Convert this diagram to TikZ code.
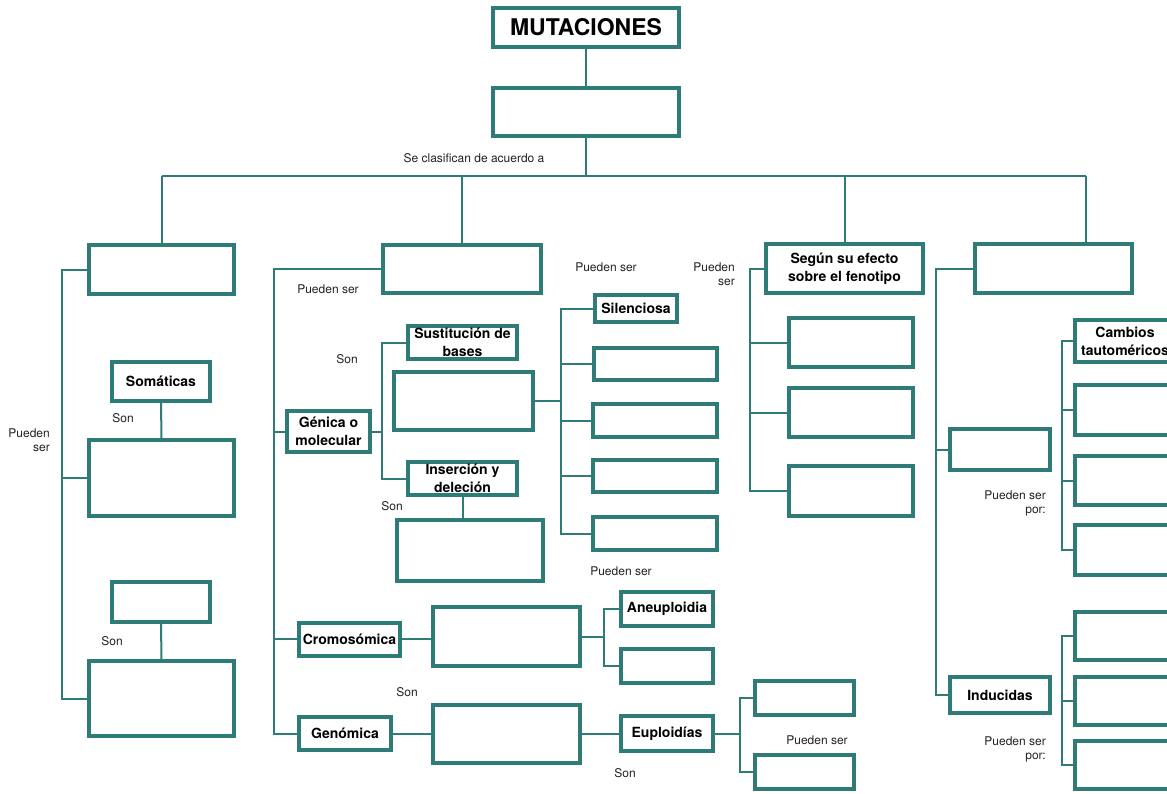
\documentclass[tikz,border=0pt]{standalone}
\usepackage{fontspec}
\setmainfont{TeX Gyre Heros}
\definecolor{tealc}{HTML}{2E7B77}
\definecolor{textc}{HTML}{222222}
\begin{document}
\begin{tikzpicture}[x=1pt,y=-1pt,
  box/.style={draw=tealc, line width=4pt, inner sep=0pt, align=center,
    font=\bfseries\fontsize{14}{18}\selectfont, text=black},
  conn/.style={draw=tealc, line width=2pt},
  lbl/.style={font=\fontsize{12}{14}\selectfont, text=textc, inner sep=0pt, align=center},
  lblr/.style={lbl, align=right, anchor=east}]
\useasboundingbox (0,0) rectangle (1167,793);
\clip (0,0) rectangle (1167,793);
\fill[white] (0,0) rectangle (1167,793);

% ---- top ----
\node[box, minimum width=186, minimum height=39, font=\bfseries\fontsize{23}{26}\selectfont] (title) at (586,27.5) {MUTACIONES};
\node[box, minimum width=186, minimum height=48] (top) at (586,112) {};

% ---- column 1 ----
\node[box, minimum width=145, minimum height=49] (A1) at (161.5,269.5) {};
\node[box, minimum width=98, minimum height=39] (som) at (161,381.5) {Somáticas};
\node[box, minimum width=145, minimum height=76] (A3) at (161.5,478) {};
\node[box, minimum width=98, minimum height=40] (A4) at (161,602) {};
\node[box, minimum width=145, minimum height=75] (A5) at (161.5,698.5) {};

% ---- column 2 ----
\node[box, minimum width=158, minimum height=48] (B1) at (462,269) {};
\node[box, minimum width=83, minimum height=41] (gen) at (328.5,431.5) {Génica o\\molecular};
\node[box, minimum width=109, minimum height=33] (sust) at (462.5,342.5) {Sustitución de\\bases};
\node[box, minimum width=139, minimum height=58] (B2) at (463.5,401) {};
\node[box, minimum width=109, minimum height=33] (ins) at (462.5,478.5) {Inserción y\\deleción};
\node[box, minimum width=146, minimum height=61] (B3) at (470,550.5) {};
\node[box, minimum width=82, minimum height=27] (sil) at (636,308.5) {Silenciosa};
\node[box, minimum width=123, minimum height=32] (S2) at (655.5,364) {};
\node[box, minimum width=124, minimum height=33] (S3) at (655,420.5) {};
\node[box, minimum width=124, minimum height=32] (S4) at (655,476) {};
\node[box, minimum width=124, minimum height=33] (S5) at (655,533.5) {};
\node[box, minimum width=101, minimum height=33] (crom) at (349.5,639) {Cromosómica};
\node[box, minimum width=147, minimum height=59] (C1) at (506.5,636.5) {};
\node[box, minimum width=92, minimum height=34] (aneu) at (667,608.5) {Aneuploidia};
\node[box, minimum width=92, minimum height=34] (An2) at (667,666) {};
\node[box, minimum width=92, minimum height=33] (genom) at (345,733.5) {Genómica};
\node[box, minimum width=147, minimum height=58] (C2) at (506.5,734) {};
\node[box, minimum width=92, minimum height=35] (eup) at (667,733.5) {Euploidías};
\node[box, minimum width=99, minimum height=34] (E1) at (804.5,698) {};
\node[box, minimum width=99, minimum height=34] (E2) at (804.5,772) {};

% ---- column 3 ----
\node[box, minimum width=157, minimum height=49] (seg) at (844.5,268.5) {Según su efecto\\sobre el fenotipo};
\node[box, minimum width=124, minimum height=49] (F1) at (851,342.5) {};
\node[box, minimum width=124, minimum height=49] (F2) at (851,412.5) {};
\node[box, minimum width=124, minimum height=50] (F3) at (851,491) {};

% ---- column 4 ----
\node[box, minimum width=157, minimum height=49] (D1) at (1053.5,268.5) {};
\node[box, minimum width=100, minimum height=41] (D2) at (1000,449.5) {};
\node[box, minimum width=100, minimum height=36] (ind) at (1000,695) {Inducidas};
\node[box, minimum width=100, minimum height=42] (cam) at (1125,341) {Cambios\\tautoméricos};
\node[box, minimum width=123, minimum height=50] (R1) at (1136.5,410) {};
\node[box, minimum width=123, minimum height=49] (R2) at (1136.5,480.5) {};
\node[box, minimum width=123, minimum height=50] (R3) at (1136.5,550) {};
\node[box, minimum width=123, minimum height=48] (R4) at (1136.5,636) {};
\node[box, minimum width=123, minimum height=48] (R5) at (1136.5,701) {};
\node[box, minimum width=123, minimum height=48] (R6) at (1136.5,765) {};

% ---- spine coordinates ----
\coordinate (hub) at (586,176);
\coordinate (d1drop) at (1086,176);
\coordinate (s1) at (62,0);
\coordinate (s2) at (274,0);
\coordinate (s3) at (382,0);
\coordinate (s4) at (561,0);
\coordinate (s5) at (604,0);
\coordinate (s6) at (740,0);
\coordinate (s7) at (750,0);
\coordinate (s8) at (936,0);
\coordinate (s9) at (1062,0);

% top
\draw[conn] (title.south) -- (top.north);
\draw[conn] (top.south) -- (hub);
\draw[conn] (A1.north |- hub) -- (d1drop);
\draw[conn] (A1.north |- hub) -- (A1.north);
\draw[conn] (B1.north |- hub) -- (B1.north);
\draw[conn] (seg.north |- hub) -- (seg.north);
\draw[conn] (d1drop) -- (d1drop |- D1.north);

% column 1
\draw[conn] (A1.west) -- (A1.west -| s1) |- (A5.west);
\draw[conn] (A3.west) -- (A3.west -| s1);
\draw[conn] (som.south) -- (A3.north);
\draw[conn] (A4.south) -- (A5.north);

% column 2
\draw[conn] (B1.west) -- (B1.west -| s2) |- (genom.west);
\draw[conn] (gen.west) -- (gen.west -| s2);
\draw[conn] (crom.west) -- (crom.west -| s2);
\draw[conn] (sust.west) -- (sust.west -| s3) |- (ins.west);
\draw[conn] (gen.east) -- (gen.east -| s3);
\draw[conn] (ins.south) -- (ins.south |- B3.north);
\draw[conn] (sil.west) -- (sil.west -| s4) |- (S5.west);
\draw[conn] (S2.west) -- (S2.west -| s4);
\draw[conn] (S3.west) -- (S3.west -| s4);
\draw[conn] (S4.west) -- (S4.west -| s4);
\draw[conn] (B2.east) -- (B2.east -| s4);
\draw[conn] (crom.east) -- (crom.east -| C1.west);
\draw[conn] (aneu.west) -- (aneu.west -| s5) |- (An2.west);
\draw[conn] (C1.east) -- (C1.east -| s5);
\draw[conn] (genom.east) -- (genom.east -| C2.west);
\draw[conn] (C2.east) -- (C2.east -| eup.west);
\draw[conn] (E1.west) -- (E1.west -| s6) |- (E2.west);
\draw[conn] (eup.east) -- (eup.east -| s6);

% column 3
\draw[conn] (seg.west) -- (seg.west -| s7) |- (F3.west);
\draw[conn] (F1.west) -- (F1.west -| s7);
\draw[conn] (F2.west) -- (F2.west -| s7);

% column 4
\draw[conn] (D1.west) -- (D1.west -| s8) |- (ind.west);
\draw[conn] (D2.west) -- (D2.west -| s8);
\draw[conn] (cam.west) -- (cam.west -| s9) |- (R3.west);
\draw[conn] (R1.west) -- (R1.west -| s9);
\draw[conn] (R2.west) -- (R2.west -| s9);
\draw[conn] (R4.west) -- (R4.west -| s9) |- (R6.west);
\draw[conn] (R5.west) -- (R5.west -| s9);

% ---- labels ----
\node[lbl] (l1) at (474,158) {Se clasifican de acuerdo a};
\node[lblr] (l2) at (50,440) {Pueden\\ser};
\node[lbl] (l3) at (123,418) {Son};
\node[lbl] (l4) at (112,641) {Son};
\node[lbl] (l5) at (328,289) {Pueden ser};
\node[lbl] (l6) at (347,359) {Son};
\node[lbl] (l7) at (392,506) {Son};
\node[lbl] (l8) at (606,267) {Pueden ser};
\node[lbl] (l9) at (621,571) {Pueden ser};
\node[lbl] (l10) at (407,692) {Son};
\node[lbl] (l11) at (625,773) {Son};
\node[lbl] (l12) at (817,740) {Pueden ser};
\node[lblr] (l13) at (735,274.5) {Pueden\\ser};
\node[lblr] (l14) at (1046,503.5) {Pueden ser\\por:};
\node[lblr] (l15) at (1046,749) {Pueden ser\\por:};
\end{tikzpicture}
\end{document}
